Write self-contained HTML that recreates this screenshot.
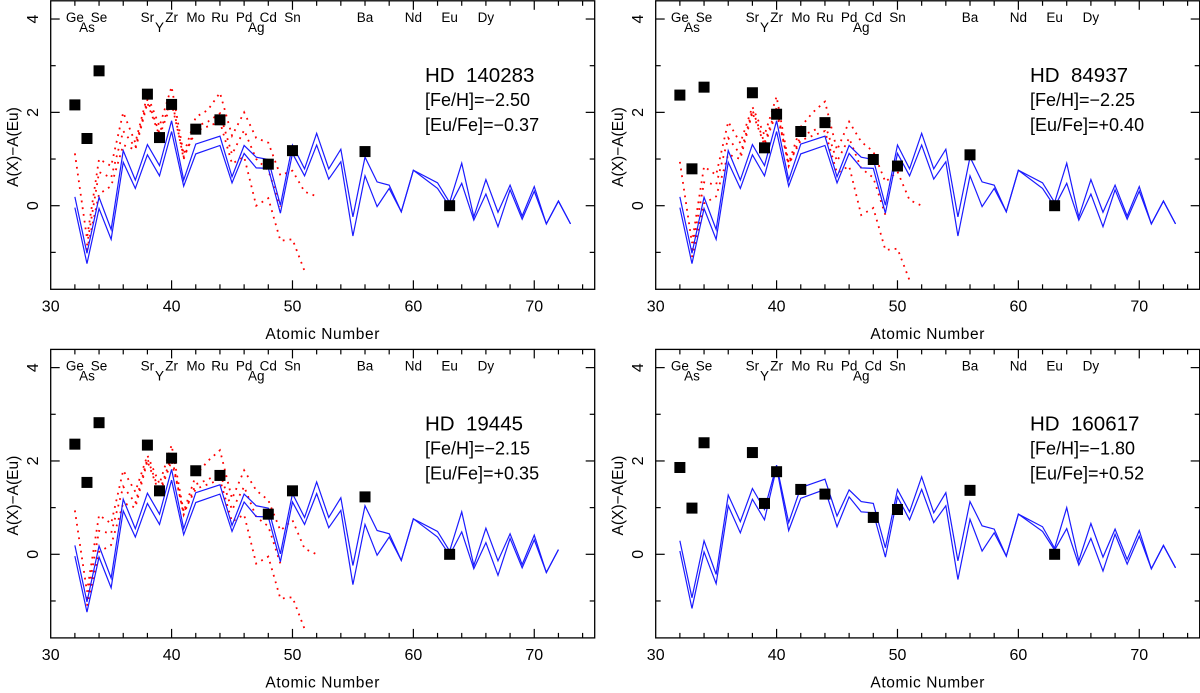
<!DOCTYPE html>
<html><head><meta charset="utf-8"><style>
html,body{margin:0;padding:0;background:#fff;}
svg{display:block;font-family:"Liberation Sans",sans-serif;}
</style></head><body>
<svg id="chart" width="1200" height="693" viewBox="0 0 1200 693"></svg>
<script>
// ---- data ----
const elemNames = ["Ge","As","Se","Sr","Y","Zr","Mo","Ru","Pd","Ag","Cd","Sn","Ba","Nd","Eu","Dy"];
const elemZ     = [32,33,34,38,39,40,42,44,46,47,48,50,56,60,63,66];
const elemLower = [0,1,0,0,1,0,0,0,0,1,0,0,0,0,0,0];

const starNames = ["HD 140283","HD 84937","HD 19445","HD 160617"];
const starFeH   = ["[Fe/H]=\u22122.50","[Fe/H]=\u22122.25","[Fe/H]=\u22122.15","[Fe/H]=\u22121.80"];
const starEuFe  = ["[Eu/Fe]=\u22120.37","[Eu/Fe]=+0.40","[Eu/Fe]=+0.35","[Eu/Fe]=+0.52"];

const obsZ = [32,33,34,38,39,40,42,44,48,50,56,63];
const obs1 = [2.16,1.44,2.89,2.39,1.46,2.17,1.64,1.84,0.89,1.18,1.16,0.0];
const obs2 = [2.37,0.79,2.54,2.42,1.24,1.96,1.59,1.78,0.99,0.85,1.09,0.0];
const obs3 = [2.36,1.54,2.82,2.34,1.36,2.06,1.79,1.69,0.86,1.36,1.23,0.0];
const obs4 = [1.86,0.99,2.39,2.18,1.09,1.77,1.39,1.29,0.79,0.96,1.37,0.0];

const modelZ = [32,33,34,35,36,37,38,39,40,41,42,44,45,46,47,48,49,50,51,52,53,54,55,56,57,58,59,60,62,63,64,65,66,67,68,69,70,71,72,73];
const blueUpA = [0.19,-1.02,0.18,-0.51,1.18,0.55,1.31,0.86,1.82,0.55,1.32,1.49,0.62,1.29,1.04,0.99,0.01,1.30,0.79,1.55,0.79,1.21,-0.24,1.04,0.51,0.44,-0.13,0.76,0.49,0.07,0.91,-0.24,0.56,-0.14,0.44,-0.22,0.41,-0.39,0.10,-0.39];
const blueLoA = [-0.04,-1.24,-0.06,-0.72,0.93,0.37,1.09,0.64,1.59,0.42,1.11,1.29,0.49,1.12,0.81,0.80,-0.16,1.12,0.64,1.30,0.57,0.94,-0.65,0.64,-0.02,0.37,-0.13,0.76,0.37,-0.02,0.48,-0.31,0.25,-0.45,0.34,-0.29,0.31,-0.39,0.10,-0.39];
const blueUpB = [0.29,-0.93,0.29,-0.43,1.27,0.70,1.41,0.96,1.91,0.68,1.43,1.61,0.82,1.38,1.13,1.09,0.14,1.39,0.91,1.66,0.89,1.32,-0.14,1.13,0.61,0.54,-0.04,0.86,0.59,0.13,1.00,-0.14,0.66,-0.06,0.54,-0.11,0.51,-0.31,0.19,-0.29];
const blueLoB = [0.07,-1.16,0.05,-0.63,1.04,0.46,1.18,0.74,1.86,0.51,1.20,1.39,0.59,1.23,0.91,0.89,-0.06,1.23,0.74,1.39,0.68,1.04,-0.54,0.75,0.07,0.46,-0.04,0.86,0.49,0.09,0.55,-0.23,0.34,-0.36,0.43,-0.21,0.39,-0.31,0.19,-0.29];

const redZtop = [32,33,34,35,36,37,38,39,40,41,42,43,44,45,46,47,48,49,50,51,52];
const redZmid = [33,34,35,36,37,38,39,40,41,42,43,44,45,46,47,48,49];
const redZlow = [33,34,35,36,37,38,39,40,41,42,43,44,45,46,47,48,49,50,51];
const redTopA = [1.12,-0.7,1.0,0.85,2.0,1.35,2.37,1.7,2.55,1.1,1.9,2.05,2.42,1.5,2.0,1.45,1.35,0.65,0.75,0.3,0.2];
const redMidA = [-0.85,0.72,0.6,1.6,1.25,2.27,1.55,2.3,1.0,1.7,1.8,1.98,1.1,1.62,1.0,0.76,-0.02];
const redLowA = [-0.95,0.25,0.42,1.3,1.2,2.2,1.5,2.2,1.05,1.6,1.7,1.8,0.9,1.05,0.0,0.16,-0.75,-0.72,-1.4];
const redTopB = [0.94,-0.8,0.84,0.66,1.8,1.34,2.12,1.51,2.34,0.91,1.69,2.0,2.23,1.19,1.8,1.37,1.16,0.51,0.73,0.12,0.0];
const redMidB = [-0.95,0.5,0.45,1.45,1.1,2.05,1.35,2.1,0.85,1.5,1.6,1.75,0.95,1.45,0.8,0.6,-0.2];
const redLowB = [-1.1,0.05,0.2,1.1,1.0,2.0,1.3,2.0,0.9,1.4,1.5,1.6,0.7,0.85,-0.2,-0.05,-0.95,-0.92,-1.6];

const xTicksMajor = [30,40,50,60,70];
const yTicksMajor = [4,2,0];

const NS="http://www.w3.org/2000/svg";
const svg=document.getElementById('chart');
function mk(tag,attrs,parent){const e=document.createElementNS(NS,tag);for(const k in attrs)e.setAttribute(k,attrs[k]);(parent||svg).appendChild(e);return e;}

const panels=[
 {ox:0,oy:0,obs:obs1,bu:blueUpA,bl:blueLoA,rt:redTopA,rm:redMidA,rl:redLowA,maxZ:73,tx:425},
 {ox:605,oy:0,obs:obs2,bu:blueUpA,bl:blueLoA,rt:redTopB,rm:redMidB,rl:redLowB,maxZ:73,tx:425},
 {ox:0,oy:348.6,obs:obs3,bu:blueUpA,bl:blueLoA,rt:redTopB,rm:redMidB,rl:redLowB,maxZ:72,tx:425},
 {ox:605,oy:348.6,obs:obs4,bu:blueUpB,bl:blueLoB,rt:null,maxZ:73,tx:425}
];

panels.forEach((p,i)=>{
  const g=mk('g',{transform:`translate(${p.ox},${p.oy})`});
  
  
  const L=50.7,R=594.7,T=0.8,B=289.3;
  const X=z=>L+(z-30)*(R-L)/45;
  const Y=v=>205.7-v*46.67;
  const fr=mk('rect',{x:L,y:T,width:R-L,height:B-T,fill:'none',stroke:'#000','stroke-width':1.3},g);
  
  
  for(let z=32;z<=74;z+=2){const len=(z%10===0)?9:5;
    mk('line',{x1:X(z),x2:X(z),y1:B,y2:B-len,stroke:'#000','stroke-width':1.2},g);
    mk('line',{x1:X(z),x2:X(z),y1:T,y2:T+len,stroke:'#000','stroke-width':1.2},g);}
  xTicksMajor.forEach(z=>{const t=mk('text',{x:X(z),y:B+22,'text-anchor':'middle','font-size':16},g);t.textContent=z;
    
    });
  for(let v=-1;v<=4;v++){const len=(v%2===0)?9:5;
    mk('line',{x1:L,x2:L+len,y1:Y(v),y2:Y(v),stroke:'#000','stroke-width':1.2},g);
    mk('line',{x1:R,x2:R-len,y1:Y(v),y2:Y(v),stroke:'#000','stroke-width':1.2},g);}
  yTicksMajor.forEach(v=>{const t=mk('text',{x:0,y:0,'text-anchor':'middle','font-size':16,transform:`translate(38,${Y(v)}) rotate(-90)`},g);t.textContent=v;
    
    });
  const yt=mk('text',{x:0,y:0,'text-anchor':'middle','font-size':15.5,transform:`translate(18,147) rotate(-90)`},g);yt.textContent='A(X)\u2212A(Eu)';
  
  
  const xt=mk('text',{x:(L+R)/2,y:339,'text-anchor':'middle','font-size':15.5,'letter-spacing':'0.6'},g);xt.textContent='Atomic Number';
  
  
  elemNames.forEach((n,k)=>{const t=mk('text',{x:X(elemZ[k]),y:elemLower[k]?32:22,'text-anchor':'middle','font-size':13.5},g);t.textContent=n;
    
    });
  const s1=mk('text',{x:p.tx,y:82,'font-size':20.5},g);s1.textContent=starNames[i].replace(' ','\u00a0\u00a0');
  
  
  const s2=mk('text',{x:p.tx,y:106,'font-size':18},g);s2.textContent=starFeH[i];
  
  
  const s3=mk('text',{x:p.tx,y:131,'font-size':18},g);s3.textContent=starEuFe[i];
  
  
  if(p.rt){
    [[redZtop,p.rt],[redZmid,p.rm],[redZlow,p.rl]].forEach((pair,k)=>{
      const pts=pair[0].map((z,j)=>X(z)+','+Y(pair[1][j])).join(' ');
      const pl=mk('polyline',{points:pts,fill:'none',stroke:'#ff0000','stroke-width':1.8,'stroke-dasharray':'1.8 5'},g);
      
      
    });
  }
  [p.bu,p.bl].forEach((arr,k)=>{
    const pts=[];modelZ.forEach((z,j)=>{if(z<=p.maxZ)pts.push(X(z)+','+Y(arr[j]));});
    const pl=mk('polyline',{points:pts.join(' '),fill:'none',stroke:'#1a1aff','stroke-width':1.2},g);
    
    
  });
  obsZ.forEach((z,j)=>{const r=mk('rect',{x:X(z)-5.5,y:Y(p.obs[j])-5.5,width:11,height:11,fill:'#000'},g);
    
    });
});
</script>
</body></html>
